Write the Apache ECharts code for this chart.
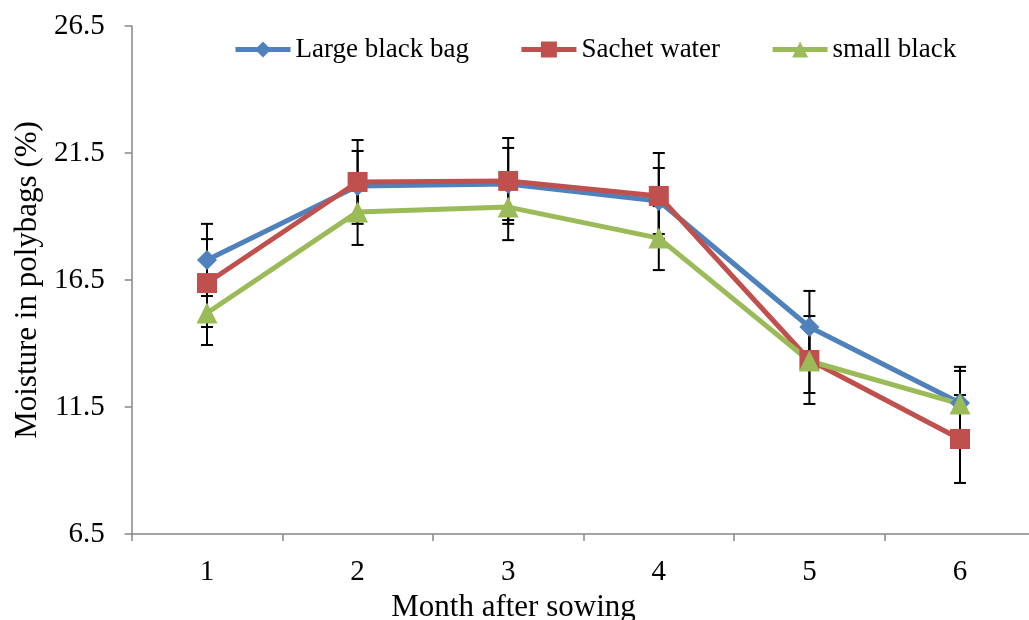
<!DOCTYPE html>
<html>
<head>
<meta charset="utf-8">
<script src="https://cdn.jsdelivr.net/npm/echarts@6/dist/echarts.min.js"></script>
<style>
  html, body { margin: 0; padding: 0; background: #fff; }
  #chart { width: 1029px; height: 620px; }
</style>
</head>
<body>
<div id="chart"></div>
<script>
// Soil moisture in polybags over six months, mean ± error per container type
const months = ['1', '2', '3', '4', '5', '6'];
const yTicks = [6.5, 11.5, 16.5, 21.5, 26.5];

const largeBag = [17.29, 20.20, 20.28, 19.61, 14.65, 11.66];
const largeBagErr = [1.42, 1.38, 1.42, 1.30, 1.42, 1.42];

const sachetWater = [16.38, 20.36, 20.40, 19.81, 13.35, 10.24];
const sachetWaterErr = [1.73, 1.65, 1.69, 1.69, 1.73, 1.73];

const smallBlack = [15.20, 19.18, 19.37, 18.15, 13.31, 11.62];
const smallBlackErr = [1.26, 1.30, 1.30, 1.26, 1.26, 1.30];

const FONT = '"Liberation Serif", "Times New Roman", serif';

function errorData(values, errs) {
  return values.map((v, i) => [i, v - errs[i], v + errs[i]]);
}

function errorSeries(values, errs) {
  return {
    type: 'custom',
    data: errorData(values, errs),
    z: 1,
    silent: true,
    renderItem: function (params, api) {
      const x = api.value(0);
      const lo = api.coord([x, api.value(1)]);
      const hi = api.coord([x, api.value(2)]);
      const cap = 6;
      const style = { stroke: '#000', lineWidth: 2 };
      return {
        type: 'group',
        children: [
          { type: 'line', shape: { x1: lo[0], y1: lo[1], x2: hi[0], y2: hi[1] }, style: style },
          { type: 'line', shape: { x1: hi[0] - cap, y1: hi[1], x2: hi[0] + cap, y2: hi[1] }, style: style },
          { type: 'line', shape: { x1: lo[0] - cap, y1: lo[1], x2: lo[0] + cap, y2: lo[1] }, style: style }
        ]
      };
    }
  };
}

function lineSeries(name, values, color, symbol, size) {
  return {
    name: name,
    type: 'line',
    data: values,
    z: 3,
    symbol: symbol,
    symbolSize: size,
    showAllSymbol: true,
    itemStyle: { color: color },
    lineStyle: { color: color, width: 5 }
  };
}

const chart = echarts.init(document.getElementById('chart'), null, { renderer: 'canvas' });

chart.setOption({
  backgroundColor: '#fff',
  animation: false,
  textStyle: { fontFamily: FONT },
  legend: {
    left: 228,
    top: 31,
    itemWidth: 55,
    itemHeight: 20,
    itemGap: 50,
    lineStyle: { width: 5 },
    textStyle: { fontFamily: FONT, fontSize: 27, color: '#000' },
    data: ['Large black bag', 'Sachet water', 'small black']
  },
  grid: {
    left: 131.7,
    top: 26,
    width: 903.6,
    height: 508,
    containLabel: false,
    outerBoundsMode: 'none'
  },
  xAxis: {
    type: 'category',
    data: months,
    boundaryGap: true,
    name: 'Month after sowing',
    nameLocation: 'middle',
    nameGap: 53,
    nameTextStyle: { fontFamily: FONT, fontSize: 31, color: '#000', padding: [0, 140, 0, 0] },
    axisLine: { lineStyle: { color: '#868686', width: 1.5 } },
    axisTick: { show: true, interval: 0, alignWithLabel: false, length: 7, lineStyle: { color: '#868686', width: 1.5 } },
    axisLabel: { margin: 24, fontFamily: FONT, fontSize: 29, color: '#000' },
    splitLine: { show: false }
  },
  yAxis: {
    type: 'value',
    min: 6.5,
    max: 26.5,
    name: 'Moisture in polybags (%)',
    nameLocation: 'middle',
    nameGap: 87,
    nameTextStyle: { fontFamily: FONT, fontSize: 31, color: '#000' },
    axisLine: { show: true, lineStyle: { color: '#868686', width: 1.5 } },
    axisTick: { show: true, length: 7, customValues: yTicks, lineStyle: { color: '#868686', width: 1.5 } },
    axisLabel: {
      margin: 27,
      customValues: yTicks,
      fontFamily: FONT,
      fontSize: 29,
      color: '#000',
      formatter: v => v.toFixed(1)
    },
    splitLine: { show: false }
  },
  series: [
    errorSeries(largeBag, largeBagErr),
    errorSeries(sachetWater, sachetWaterErr),
    errorSeries(smallBlack, smallBlackErr),
    lineSeries('Large black bag', largeBag, '#4F81BD', 'diamond', 20),
    lineSeries('Sachet water', sachetWater, '#C0504D', 'rect', 20),
    lineSeries('small black', smallBlack, '#9BBB59', 'triangle', 21)
  ]
});
</script>
</body>
</html>
